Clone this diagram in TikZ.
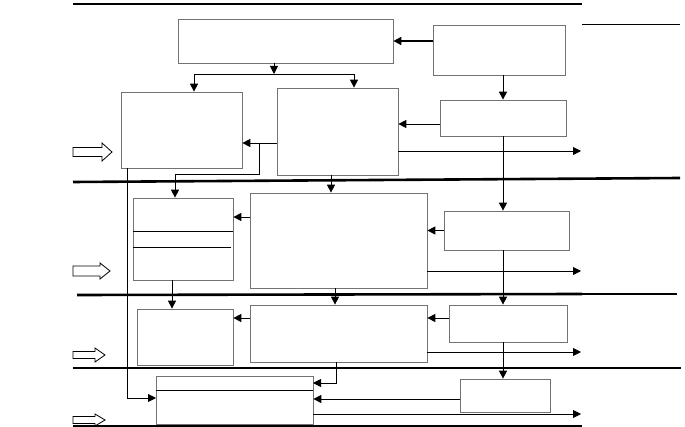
\documentclass[tikz,border=0pt]{standalone}
\usetikzlibrary{arrows.meta,calc}
\begin{document}
\begin{tikzpicture}[x=1pt,y=1pt]
        \tikzstyle{every node}+=[inner sep=0pt]
        \tikzstyle{blk}=[draw=black!55, line width=0.7pt, rectangle]
        \tikzstyle{arr}=[line width=0.9pt, -{Triangle[length=8pt,width=8pt]}]
        \tikzstyle{lane}=[line width=2.6pt]
        \tikzstyle{hollow}=[line width=0.8pt]
        \useasboundingbox (0,0) rectangle (685,-427);
        % lane lines
        \draw [lane] (73,-4) -- (582,-4);
        \draw [line width=0.9pt] (582,-24) -- (680,-24);
        \draw [lane] (73,-182) -- (680,-178);
        \draw [lane] (77,-295) -- (582,-294);
        \draw [line width=1.4pt] (582,-294) -- (677,-294);
        \draw [lane] (73,-368) -- (582,-368);
        \draw [line width=1.4pt] (582,-368) -- (681,-368);
        \draw [lane] (73,-426) -- (582,-426);
        % boxes
        \node [blk, minimum width=215pt, minimum height=44pt] (top) at (285.5,-41) {};
        \node [blk, minimum width=132pt, minimum height=50pt] (feed) at (499,-50) {};
        \node [blk, minimum width=126pt, minimum height=36pt] (right1) at (503,-118) {};
        \node [blk, minimum width=121pt, minimum height=87pt] (mid1) at (337.5,-131.5) {};
        \node [blk, minimum width=121pt, minimum height=76pt] (left1) at (181.5,-130) {};
        \node [blk, minimum width=100pt, minimum height=82pt] (left2) at (183,-239) {};
        \node [blk, minimum width=177pt, minimum height=95pt] (mid2) at (338.5,-240.5) {};
        \node [blk, minimum width=125pt, minimum height=39pt] (right2) at (506.5,-230.5) {};
        \node [blk, minimum width=96pt, minimum height=56pt] (left3) at (185,-337) {};
        \node [blk, minimum width=177pt, minimum height=57pt] (mid3) at (338.5,-333.5) {};
        \node [blk, minimum width=118pt, minimum height=37pt] (right3) at (508,-323.5) {};
        \node [blk, minimum width=157pt, minimum height=48pt] (base) at (234.5,-400) {};
        \node [blk, minimum width=90pt, minimum height=33pt] (right4) at (505,-395.5) {};
        \draw [line width=0.8pt] ($(left2.north west)+(0,-34)$) -- ($(left2.north east)+(0,-34)$);
        \draw [line width=0.8pt] ($(left2.north west)+(0,-50)$) -- ($(left2.north east)+(-2,-50)$);
        \draw [line width=0.8pt] ($(base.north west)+(0,-15)$) -- ($(base.north east)+(0,-15)$);
        % bend points
        \coordinate (fk) at (274,-74);
        \coordinate (fl) at (194,-74);
        \coordinate (fr) at (354,-74);
        \coordinate (cd) at (440,-124);
        \coordinate (de) at (259,-143);
        \coordinate (ef) at (175,-174);
        \coordinate (dh) at (331,-175);
        \coordinate (hf) at (250,-217);
        \coordinate (fx) at (172,-280);
        \coordinate (hx) at (335,-288);
        \coordinate (ji) at (449,-318);
        \coordinate (ik) at (250,-318);
        \coordinate (il) at (336,-362);
        \coordinate (lr) at (313,-383);
        \coordinate (ml) at (460,-399);
        \coordinate (ex) at (127,-168);
        \coordinate (lw) at (156,-398);
        \coordinate (o1) at (581,-151);
        \coordinate (o2) at (581,-271);
        \coordinate (o3) at (581,-352);
        \coordinate (o4) at (581,-414);
        % connectors
        \draw [arr, line width=1.6pt] (feed.west |- top.east) -- (top.east);
        \draw [arr] (top.south -| fk) -- (fk);
        \draw [line width=0.9pt] (fl) -- (fr);
        \draw [arr] (fl) -- (fl |- left1.north);
        \draw [arr] (fr) -- (fr |- mid1.north);
        \draw [arr] (right1.north |- feed.south) -- (right1.north);
        \draw [arr] (cd) -- (mid1.east |- cd);
        \draw [arr] (mid1.east |- o1) -- (o1);
        \draw [arr] (mid1.west |- de) -- (left1.east |- de);
        \draw [arr] (de) |- (ef) -- (ef |- left2.north);
        \draw [arr] (dh) -- (dh |- mid2.north);
        \draw [arr] (right1.south) -- (right1.south |- right2.north);
        \draw [arr] (right2.west) -- (right2.west -| mid2.east);
        \draw [arr] (hf) -- (left2.east |- hf);
        \draw [arr] (mid2.east |- o2) -- (o2);
        \draw [arr] (right1.south |- right2.south) -- (right1.south |- right3.north);
        \draw [arr] (fx) -- (fx |- left3.north);
        \draw [arr] (hx) -- (hx |- mid3.north);
        \draw [arr] (ji) -- (mid3.east |- ji);
        \draw [arr] (ik) -- (left3.east |- ik);
        \draw [arr] (mid3.east |- o3) -- (o3);
        \draw [arr] (right1.south |- right3.south) -- (right1.south |- right4.north);
        \draw [arr] (il) |- (lr);
        \draw [arr] (ml) -- (base.east |- ml);
        \draw [arr] (base.east |- o4) -- (o4);
        \draw [arr] (ex) |- (lw);
        % input arrows
        \foreach \y/\l/\s/\h in {-152/39/4.5/9, -271/37/5/8, -355/32/3.5/7, -420/32/3.5/6}
            \draw [hollow] (73,\y) ++(0,-\s) -- ++(\l-10,0) -- ++(0,\s-\h) -- ++(10,\h) -- ++(-10,\h) -- ++(0,\s-\h) -- ++(10-\l,0) -- cycle;
    \end{tikzpicture}
\end{document}
